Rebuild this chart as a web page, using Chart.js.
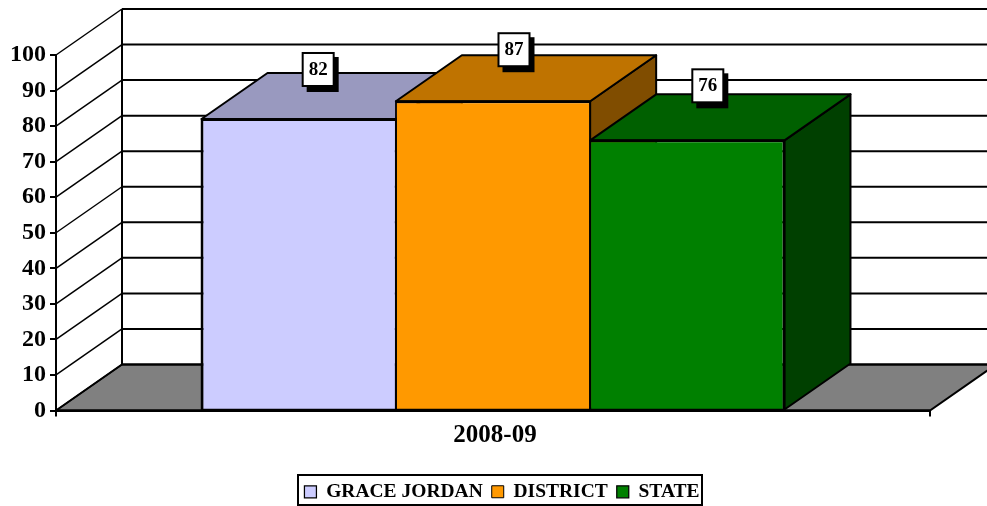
<!DOCTYPE html>
<html>
<head>
<meta charset="utf-8">
<style>
  html, body { margin: 0; padding: 0; background: #fff; }
  canvas { display: block; }
</style>
<script src="https://cdn.jsdelivr.net/npm/chart.js@4"></script>
</head>
<body>
<canvas id="chart" width="987" height="506"></canvas>
<script>
const categories = ["2008-09"];
const seriesNames = ["GRACE JORDAN", "DISTRICT", "STATE"];
const graceJordan = [82];
const district = [87];
const state = [76];
const tickValues = [0, 10, 20, 30, 40, 50, 60, 70, 80, 90, 100];

const frontColors = ["#CCCCFF", "#FF9900", "#008000"];
const topColors = ["#9999BF", "#BF7300", "#006000"];
const sideColors = ["#666680", "#804D00", "#004000"];
const barBorders = [
  { top:2, left:2, right:1, bottom:0 },
  { top:2, left:1, right:1, bottom:0 },
  { top:2, left:1, right:2, bottom:0 }
];
const labelShiftX = [19, 20.5, 20];
const labelShiftY = [-50, -52, -55];

const FONT = "'Liberation Serif', 'Times New Roman', serif";
const DEPTH_X = 66;
const DEPTH_Y = -46;

function quad(ctx, points, fill, lineWidth){
  ctx.beginPath();
  points.forEach(([x,y],i) => i ? ctx.lineTo(x,y) : ctx.moveTo(x,y));
  ctx.closePath();
  if(fill){
    ctx.fillStyle = fill;
    ctx.fill();
  }
  ctx.lineWidth = lineWidth;
  ctx.strokeStyle = "#000";
  ctx.stroke();
}

function line(ctx, x1, y1, x2, y2, width){
  ctx.beginPath();
  ctx.moveTo(x1,y1);
  ctx.lineTo(x2,y2);
  ctx.lineWidth = width;
  ctx.strokeStyle = "#000";
  ctx.stroke();
}

const walls3d = {
  id:"walls3d",
  afterLayout(chart){
    const legend = chart.legend;
    legend.left += 37;
    legend.right += 37;
    legend.top = 473;
  },
  beforeDraw(chart){
    const {ctx, chartArea:area, scales:{y}} = chart;
    const zero = y.getPixelForValue(0);

    ctx.save();
    // legend frame
    ctx.fillStyle = "#fff";
    ctx.fillRect(298,475,404,30);
    ctx.lineWidth = 2;
    ctx.strokeStyle = "#000";
    ctx.strokeRect(298,475,404,30);

    // floor
    quad(ctx,[
      [area.left,zero],
      [area.left + DEPTH_X,zero + DEPTH_Y],
      [area.right + DEPTH_X,zero + DEPTH_Y],
      [area.right,zero]
    ],"#808080",2);

    // side wall and back wall lines
    tickValues.forEach(value => {
      const py = y.getPixelForValue(value);
      line(ctx,area.left,py,area.left + DEPTH_X,py + DEPTH_Y,1.5);
      line(ctx,area.left + DEPTH_X,py + DEPTH_Y,area.right + DEPTH_X,py + DEPTH_Y,2);
    });
    line(ctx,area.left + DEPTH_X,y.getPixelForValue(100) + DEPTH_Y,area.left + DEPTH_X,zero + DEPTH_Y,2);
    ctx.restore();
  },
  beforeDatasetsDraw(chart){
    const {ctx} = chart;
    ctx.save();
    ctx.lineJoin = "round";
    chart.data.datasets.forEach((dataset,i) => {
      const bar = chart.getDatasetMeta(i).data[0];
      const left = bar.x - bar.width / 2;
      const right = bar.x + bar.width / 2;
      quad(ctx,[
        [right,bar.y],
        [right + DEPTH_X,bar.y + DEPTH_Y],
        [right + DEPTH_X,bar.base + DEPTH_Y],
        [right,bar.base]
      ],sideColors[i],2);
      quad(ctx,[
        [left,bar.y],
        [left + DEPTH_X,bar.y + DEPTH_Y],
        [right + DEPTH_X,bar.y + DEPTH_Y],
        [right,bar.y]
      ],topColors[i],2);
    });
    ctx.restore();
  },
  afterDatasetsDraw(chart){
    const {ctx, chartArea:area, scales:{y}} = chart;
    const zero = y.getPixelForValue(0);
    ctx.save();
    // crisp outline on the front faces and the floor edge
    chart.data.datasets.forEach((dataset,i) => {
      const bar = chart.getDatasetMeta(i).data[0];
      const left = bar.x - bar.width / 2;
      ctx.lineWidth = 1.5;
      ctx.strokeStyle = "#000";
      ctx.strokeRect(left,bar.y,bar.width,bar.base - bar.y);
    });
    line(ctx,area.left,zero,area.right,zero,2);

    ctx.font = "bold 19px " + FONT;
    ctx.textAlign = "center";
    ctx.textBaseline = "middle";
    chart.data.datasets.forEach((dataset,i) => {
      const bar = chart.getDatasetMeta(i).data[0];
      const cx = bar.x + labelShiftX[i];
      const cy = bar.y + labelShiftY[i];
      // shadow, then white label box
      ctx.fillStyle = "#000";
      ctx.fillRect(cx - 11,cy - 12,32,35);
      ctx.fillStyle = "#fff";
      ctx.fillRect(cx - 15,cy - 16,31,33);
      ctx.lineWidth = 2;
      ctx.strokeStyle = "#000";
      ctx.strokeRect(cx - 15,cy - 16,31,33);
      ctx.fillStyle = "#000";
      ctx.fillText(String(dataset.data[0]),cx + 0.5,cy + 1);
    });
    ctx.restore();
  }
};

const seriesValues = [graceJordan, district, state];

new Chart(document.getElementById("chart"),{
  type:"bar",
  data:{
    labels:categories,
    datasets:seriesNames.map((name,i) => ({
      label:name,
      data:seriesValues[i],
      backgroundColor:frontColors[i],
      borderColor:"#000",
      borderWidth:barBorders[i],
      borderSkipped:false,
      categoryPercentage:0.667,
      barPercentage:1
    }))
  },
  options:{
    responsive:false,
    animation:false,
    layout:{ padding:{ top:55, right:57, left:0, bottom:0 } },
    plugins:{
      tooltip:{ enabled:false },
      legend:{
        position:"bottom",
        labels:{
          boxWidth:12,
          boxHeight:12,
          padding:9,
          color:"#000",
          font:{ family:FONT, size:19.5, weight:"bold" }
        }
      }
    },
    scales:{
      x:{
        afterFit(scale){ scale.height = 57; },
        border:{ color:"#000", width:2 },
        grid:{ drawOnChartArea:false, color:"#000", lineWidth:2, tickLength:6 },
        ticks:{
          color:"#000",
          padding:4,
          labelOffset:2,
          font:{ family:FONT, size:25, weight:"bold" }
        }
      },
      y:{
        min:0,
        max:100,
        afterFit(scale){ scale.width = 56; },
        afterBuildTicks(scale){ scale.ticks = tickValues.map(value => ({ value })); },
        border:{ color:"#000", width:2 },
        grid:{ drawOnChartArea:false, color:"#000", lineWidth:2, tickLength:6 },
        ticks:{
          color:"#000",
          padding:4,
          font:{ family:FONT, size:24, weight:"bold" }
        }
      }
    }
  },
  plugins:[walls3d]
});
</script>
</body>
</html>
